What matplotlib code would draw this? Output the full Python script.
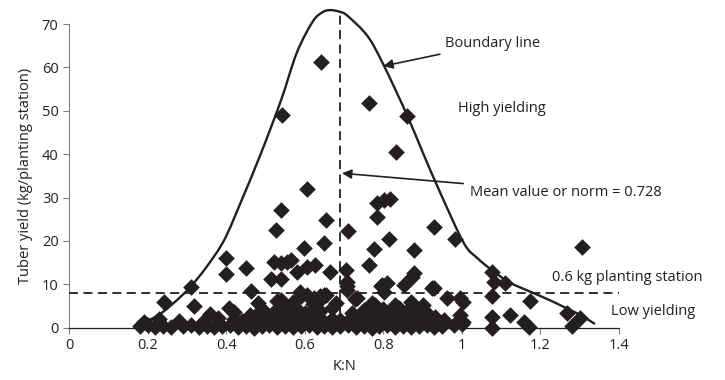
import matplotlib
matplotlib.use("Agg")
import matplotlib.pyplot as plt
from matplotlib.path import Path
from matplotlib.patches import PathPatch

plt.rcParams['font.family'] = ['Open Sans', 'DejaVu Sans']

# Boundary line
boundary_x = [0.17, 0.20, 0.24, 0.28, 0.31, 0.35, 0.395, 0.44, 0.49, 0.54, 0.58, 0.62,
              0.645, 0.665, 0.69, 0.71, 0.76, 0.80, 0.86, 0.90, 0.945, 1.005, 1.04,
              1.076, 1.12, 1.174, 1.22, 1.258, 1.30, 1.339]
boundary_y = [0.2, 1.5, 3.7, 6.8, 9.5, 14.0, 20.2, 29.5, 40.5, 52.5, 63.4, 70.5,
              72.7, 73.2, 72.8, 71.8, 67.2, 60.7, 49.1, 40.5, 31.1, 19.5, 16.0,
              13.3, 10.5, 8.3, 6.5, 4.85, 3.0, 0.85]

# Scattered observations above the dense band
upper_x = [0.642, 0.543, 0.763, 0.860, 0.833, 0.606, 0.539, 0.528, 0.655, 0.649, 0.711,
           0.784, 0.801, 0.818, 0.784, 0.928, 0.814, 0.983, 0.776, 0.877, 1.305,
           0.598, 0.763, 0.627, 0.664, 0.704, 0.607, 0.873, 0.797, 0.852, 0.924,
           1.076, 1.081, 1.110, 0.962, 0.996, 1.004, 1.076, 1.174, 0.708, 0.729, 0.780,
           0.640, 0.653, 0.590, 0.399, 0.399, 0.450, 0.522, 0.556, 0.513, 0.539,
           0.310, 0.462, 0.242, 0.318, 0.407, 0.530, 0.564, 0.539, 0.581, 0.708,
           0.708, 0.793, 0.810, 0.589, 0.607, 0.649, 0.539, 0.623, 0.644, 0.733,
           0.776, 0.801, 0.928, 0.877]
upper_y = [61.2, 49.1, 51.7, 48.9, 40.5, 31.9, 27.2, 22.6, 24.8, 19.5, 22.4,
           28.7, 29.5, 29.7, 25.5, 23.2, 20.5, 20.4, 18.2, 18.0, 18.7,
           18.3, 14.5, 14.5, 12.9, 13.3, 13.9, 11.8, 9.9, 9.9, 9.1,
           12.9, 10.6, 10.3, 6.8, 6.8, 6.0, 7.2, 6.2, 9.5, 6.6, 5.2,
           7.2, 7.5, 7.2, 16.0, 12.4, 13.7, 15.2, 15.2, 11.2, 11.2,
           9.3, 8.5, 5.9, 4.9, 4.6, 6.2, 15.6, 14.9, 12.9, 10.6,
           8.8, 9.5, 10.3, 8.3, 7.5, 7.5, 6.4, 6.8, 6.8, 6.8,
           4.5, 8.3, 9.1, 12.6]

# Dense low-yield band
band_x = [0.18, 0.20, 0.22, 0.24, 0.26, 0.29, 0.31, 0.33, 0.35, 0.37, 0.39, 0.41, 0.43,
          0.45, 0.47, 0.49, 0.51, 0.53, 0.55, 0.57, 0.59, 0.61, 0.63, 0.65, 0.67, 0.69,
          0.71, 0.73, 0.75, 0.77, 0.79, 0.81, 0.83, 0.85, 0.87, 0.89, 0.91, 0.93, 0.95,
          0.98, 1.00, 1.076, 1.17, 1.28,
          0.19, 0.23, 0.28, 0.34, 0.38, 0.42, 0.44, 0.47, 0.49, 0.51, 0.53, 0.55, 0.57,
          0.59, 0.61, 0.63, 0.65, 0.67, 0.69, 0.72, 0.74, 0.76, 0.78, 0.80, 0.82, 0.84,
          0.86, 0.88, 0.90, 0.92, 0.954, 1.004, 1.157, 1.301,
          0.36, 0.42, 0.46, 0.49, 0.52, 0.54, 0.56, 0.58, 0.60, 0.62, 0.64, 0.67, 0.72,
          0.75, 0.78, 0.80, 0.82, 0.84, 0.86, 0.88, 0.91, 0.932, 0.996, 1.076, 1.123,
          1.267,
          0.48, 0.55, 0.57, 0.62, 0.68, 0.77, 0.83, 0.87, 0.90]
band_y = [0.3, 0.6, 0.2, 0.4, 0.1, 0.3, 0.6, 0.2, 0.5, 0.1, 0.4, 0.7, 0.2,
          0.5, 0.0, 0.3, 0.6, 0.2, 0.4, 0.1, 0.5, 0.7, 0.2, 0.4, 0.1, 0.3,
          0.6, 0.2, 0.4, 0.0, 0.3, 0.6, 0.2, 0.5, 0.1, 0.4, 0.6, 0.2, 0.4,
          0.7, 0.9, 0.0, 0.2, 0.5,
          1.3, 1.9, 1.5, 1.4, 2.3, 2.0, 1.6, 2.5, 1.4, 2.2, 1.7, 2.6, 1.5,
          2.3, 1.8, 2.6, 1.4, 2.1, 1.7, 2.4, 1.5, 2.2, 1.9, 2.6, 1.6, 2.3,
          1.5, 2.4, 1.8, 2.2, 1.8, 1.4, 1.4, 2.2,
          3.2, 3.6, 3.0, 4.2, 3.4, 4.6, 3.7, 4.4, 3.3, 4.1, 3.8, 4.5, 3.5,
          4.0, 3.6, 4.3, 3.4, 4.6, 3.8, 4.0, 3.4, 2.5, 2.9, 2.5, 2.9,
          3.3,
          5.6, 5.2, 6.0, 5.4, 5.8, 5.6, 5.3, 5.9, 5.2]

mean_x = 0.69
threshold_y = 8.1

x_ticks = [0, 0.2, 0.4, 0.6, 0.8, 1.0, 1.2, 1.4]
x_tick_labels = ["0", "0.2", "0.4", "0.6", "0.8", "1", "1.2", "1.4"]
y_ticks = [0, 10, 20, 30, 40, 50, 60, 70]

fig = plt.figure(figsize=(7.25, 3.8), dpi=100)
ax = fig.add_axes([69/725, 1 - 327.7/380, (619 - 69)/725, (327.7 - 24)/380])
ax.set_xlim(0, 1.4)
ax.set_ylim(0, 70)

ink = '#231f20'
grey = '#808080'

ax.scatter(upper_x + band_x, upper_y + band_y, marker='D', s=72, color=ink,
           linewidths=0, zorder=3, clip_on=False)

# Smooth boundary line through the read points (Catmull-Rom drawn as Bezier curves)
pts = list(zip(boundary_x, boundary_y))
verts = [pts[0]]
codes = [Path.MOVETO]
for i in range(len(pts) - 1):
    p0 = pts[i - 1] if i > 0 else pts[i]
    p1 = pts[i]
    p2 = pts[i + 1]
    p3 = pts[i + 2] if i + 2 < len(pts) else pts[i + 1]
    c1 = (p1[0] + (p2[0] - p0[0]) / 6, p1[1] + (p2[1] - p0[1]) / 6)
    c2 = (p2[0] - (p3[0] - p1[0]) / 6, p2[1] - (p3[1] - p1[1]) / 6)
    verts += [c1, c2, p2]
    codes += [Path.CURVE4] * 3
ax.add_patch(PathPatch(Path(verts, codes), facecolor='none', edgecolor=ink,
                       lw=1.7, zorder=4, clip_on=False))

ax.plot([mean_x, mean_x], [0, 72.6], color=ink, lw=1.3, ls=(0, (5, 3)),
        zorder=4, clip_on=False)
ax.plot([0, 1.4], [threshold_y, threshold_y], color=ink, lw=1.3, ls=(0, (5, 3)),
        zorder=4, clip_on=False)

for s in ['top', 'right']:
    ax.spines[s].set_visible(False)
ax.spines['left'].set_color(grey)
ax.spines['bottom'].set_color(ink)
ax.spines['bottom'].set_linewidth(0.9)
ax.set_xticks(x_ticks)
ax.set_xticklabels(x_tick_labels)
ax.set_yticks(y_ticks)
ax.tick_params(axis='both', colors=grey, labelcolor=ink, labelsize=10.5,
               length=4, direction='out')
ax.set_xlabel('K:N', fontsize=10.5, color=ink, labelpad=4)
ax.set_ylabel('Tuber yield (kg/planting station)', fontsize=10.5, color=ink,
              labelpad=6)

fs = 10.5
ax.annotate('Boundary line', xy=(0.80, 60.3), xytext=(0.958, 65.6),
            fontsize=fs, color=ink, va='center', ha='left',
            arrowprops=dict(arrowstyle='-|>', color=ink, lw=1.2,
                            mutation_scale=14, shrinkA=3, shrinkB=0))
ax.text(0.991, 50.5, 'High yielding', fontsize=fs, color=ink, va='center', ha='left')
ax.annotate('Mean value or norm = 0.728', xy=(0.695, 35.6), xytext=(1.021, 31.2),
            fontsize=fs, color=ink, va='center', ha='left',
            arrowprops=dict(arrowstyle='-|>', color=ink, lw=1.2,
                            mutation_scale=14, shrinkA=3, shrinkB=0))
ax.text(1.23, 11.6, '0.6 kg planting station', fontsize=fs, color=ink,
        va='center', ha='left', clip_on=False)
ax.text(1.38, 3.8, 'Low yielding', fontsize=fs, color=ink, va='center',
        ha='left', clip_on=False)

fig.savefig('out.png', dpi=100)
